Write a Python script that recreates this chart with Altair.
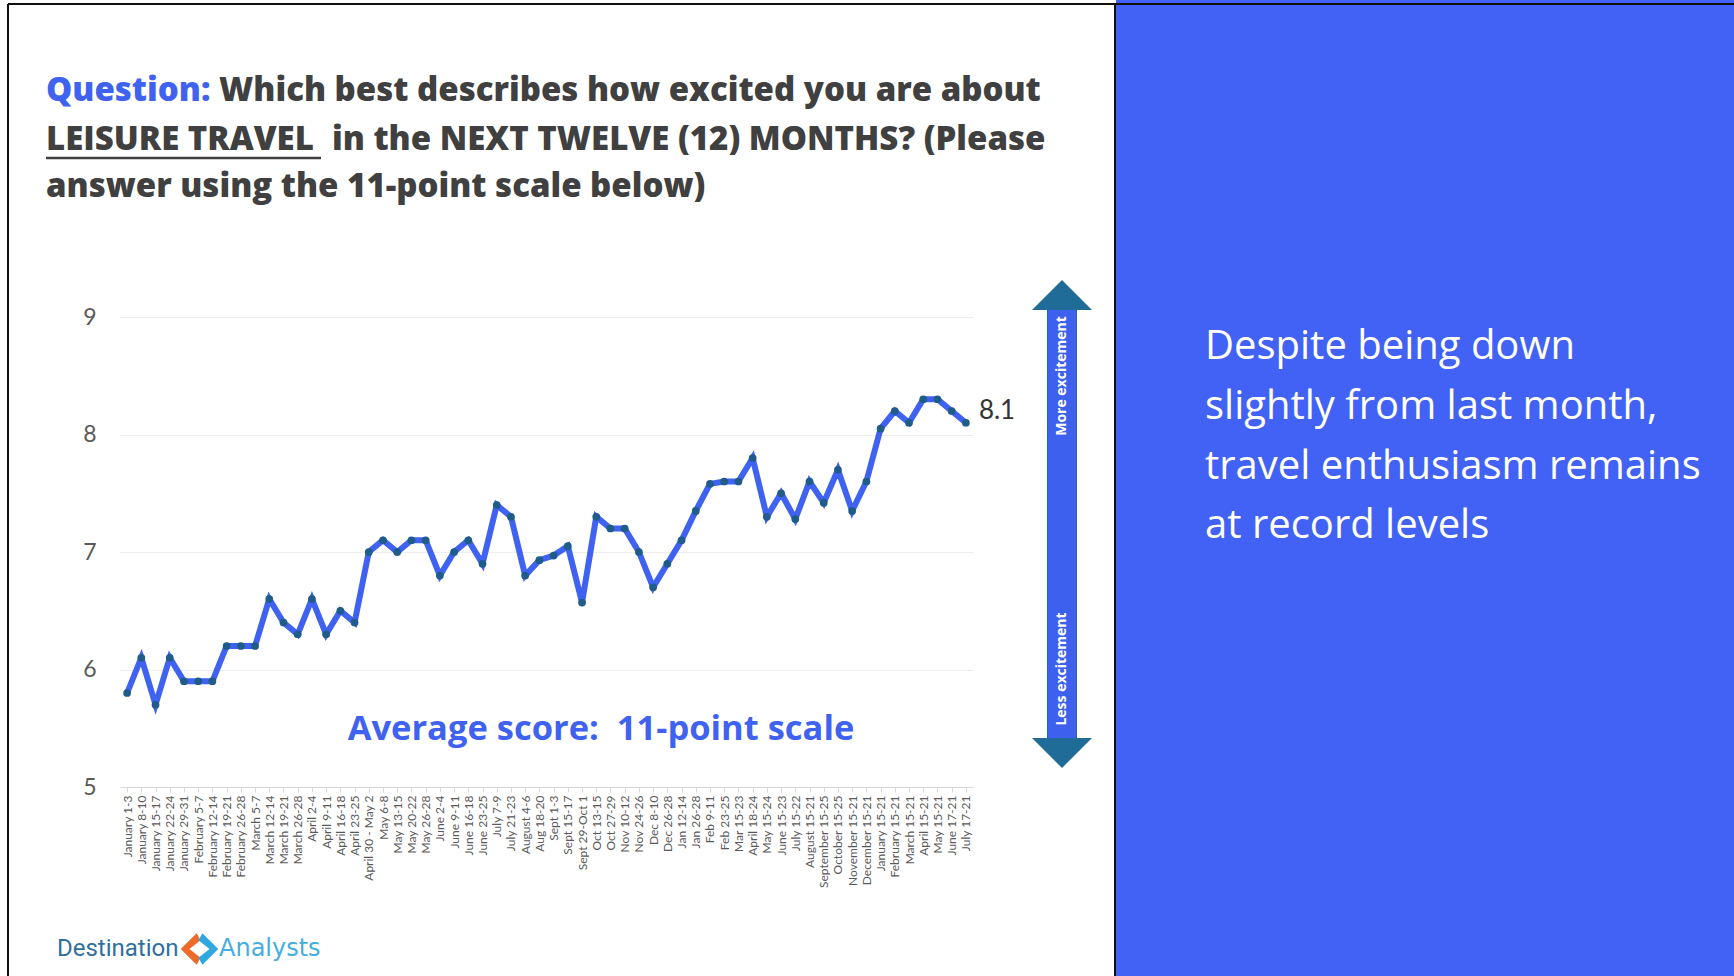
import altair as alt
import pandas as pd

categories = [
    "January 1-3", "January 8-10", "January 15-17", "January 22-24", "January 29-31",
    "February 5-7", "February 12-14", "February 19-21", "February 26-28", "March 5-7",
    "March 12-14", "March 19-21", "March 26-28", "April 2-4", "April 9-11",
    "April 16-18", "April 23-25", "April 30 - May 2", "May 6-8", "May 13-15",
    "May 20-22", "May 26-28", "June 2-4", "June 9-11", "June 16-18",
    "June 23-25", "July 7-9", "July 21-23", "August 4-6", "Aug 18-20",
    "Sept 1-3", "Sept 15-17", "Sept 29-Oct 1", "Oct 13-15", "Oct 27-29",
    "Nov 10-12", "Nov 24-26", "Dec 8-10", "Dec 26-28", "Jan 12-14",
    "Jan 26-28", "Feb 9-11", "Feb 23-25", "Mar 15-23", "April 18-24",
    "May 15-24", "June 15-23", "July 15-22", "August 15-21", "September 15-25",
    "October 15-25", "November 15-21", "December 15-21", "January 15-21", "February 15-21",
    "March 15-21", "April 15-21", "May 15-21", "June 17-21", "July 17-21",
]
scores = [
    5.8, 6.1, 5.7, 6.1, 5.9, 5.9, 5.9, 6.2, 6.2, 6.2,
    6.6, 6.4, 6.3, 6.6, 6.3, 6.5, 6.4, 7.0, 7.1, 7.0,
    7.1, 7.1, 6.8, 7.0, 7.1, 6.9, 7.4, 7.3, 6.8, 6.93,
    6.97, 7.05, 6.57, 7.3, 7.2, 7.2, 7.0, 6.7, 6.9, 7.1,
    7.35, 7.58, 7.6, 7.6, 7.8, 7.3, 7.5, 7.28, 7.6, 7.42,
    7.7, 7.35, 7.6, 8.05, 8.2, 8.1, 8.3, 8.3, 8.2, 8.1,
]
y_ticks = [5, 6, 7, 8, 9]

title_lines = [
    ("Question:", "Which best describes how excited you are about"),
    ("LEISURE TRAVEL", "in the NEXT TWELVE (12) MONTHS? (Please"),
    ("answer using the 11-point scale below)", ""),
]
side_lines = [
    "Despite being down",
    "slightly from last month,",
    "travel enthusiasm remains",
    "at record levels",
]
caption = "Average score:\u00a0\u00a011-point scale"

df = pd.DataFrame({"period": categories, "score": scores})
last = df.tail(1)
one = pd.DataFrame({"k": [0]})

PAD_L, PAD_T, W, H = 120, 317, 853, 470
TOTAL_W, TOTAL_H = 1734, 976

BLUE = "#4162F4"
LINE_BLUE = "#3F63F0"
GRAY = "#404040"
TEAL = "#206C98"
TFONT = "Open Sans"

x_enc = alt.X(
    "period:N", sort=categories, title=None,
    scale=alt.Scale(type="point", padding=0.5),
    axis=alt.Axis(labelAngle=270, labelFontSize=12, labelFont="Lato", labelColor="#595959",
                  domainColor="#D9D9D9", tickColor="#D9D9D9", tickSize=5, labelPadding=3,
                  labelLimit=200, grid=False),
)
y_enc = alt.Y(
    "score:Q", title=None,
    scale=alt.Scale(domain=[5, 9], nice=False, zero=False),
    axis=alt.Axis(values=y_ticks, labelFontSize=23, labelFont="Lato", labelColor="#595959",
                  domain=False, ticks=False, labelPadding=24, gridColor="#EDEDED", gridWidth=1.2),
)

layers = []

# right blue panel
layers.append(alt.Chart(one).mark_rect(color=BLUE).encode(
    x=alt.value(1116 - PAD_L), x2=alt.value(TOTAL_W - PAD_L),
    y=alt.value(-PAD_T), y2=alt.value(TOTAL_H - PAD_T)))
# frame lines
layers.append(alt.Chart(one).mark_rule(color="#111111", strokeWidth=2).encode(
    x=alt.value(8 - PAD_L), x2=alt.value(TOTAL_W - PAD_L), y=alt.value(4 - PAD_T)))
layers.append(alt.Chart(one).mark_rule(color="#111111", strokeWidth=2).encode(
    x=alt.value(8 - PAD_L), y=alt.value(4 - PAD_T), y2=alt.value(TOTAL_H - PAD_T)))
layers.append(alt.Chart(one).mark_rule(color="#111111", strokeWidth=2).encode(
    x=alt.value(1115 - PAD_L), y=alt.value(4 - PAD_T), y2=alt.value(TOTAL_H - PAD_T)))

# data line and points
layers.append(alt.Chart(df).mark_line(color=LINE_BLUE, strokeWidth=6).encode(x=x_enc, y=y_enc))
layers.append(alt.Chart(df).mark_circle(color="#1F5C8A", size=60, opacity=1).encode(x=x_enc, y=y_enc))
layers.append(alt.Chart(last).mark_text(align="left", baseline="middle", dx=13, dy=-12,
                                        fontSize=26, font="Lato", color="#333333").encode(
    x=x_enc, y=y_enc, text=alt.Text("score:Q", format=".1f")))

# chart caption
layers.append(alt.Chart(one).mark_text(align="center", baseline="middle", fontSize=34.5, font=TFONT,
                                       fontWeight="bold", color=LINE_BLUE).encode(
    x=alt.value(601 - PAD_L), y=alt.value(730 - PAD_T), text=alt.value(caption)))

# title lines
title_y = [91, 140, 187]
second_x = [219, 332, 0]
for (first, rest), ty, sx in zip(title_lines, title_y, second_x):
    col = LINE_BLUE if first == "Question:" else GRAY
    layers.append(alt.Chart(one).mark_text(align="left", baseline="middle", fontSize=33, font=TFONT,
                                           fontWeight=800, color=col).encode(
        x=alt.value(46 - PAD_L), y=alt.value(ty - PAD_T), text=alt.value(first)))
    if rest:
        layers.append(alt.Chart(one).mark_text(align="left", baseline="middle", fontSize=33, font=TFONT,
                                               fontWeight=800, color=GRAY).encode(
            x=alt.value(sx - PAD_L), y=alt.value(ty - PAD_T), text=alt.value(rest)))
# underline for LEISURE TRAVEL
layers.append(alt.Chart(one).mark_rule(color=GRAY, strokeWidth=2.5).encode(
    x=alt.value(46 - PAD_L), x2=alt.value(321 - PAD_L), y=alt.value(158 - PAD_T)))

# double arrow
AX = 1062 - PAD_L
layers.append(alt.Chart(one).mark_rect(color="#3D60EE", stroke=TEAL, strokeWidth=1).encode(
    x=alt.value(AX - 14.5), x2=alt.value(AX + 14.5), y=alt.value(306 - PAD_T), y2=alt.value(742 - PAD_T)))
layers.append(alt.Chart(one).mark_point(shape="M-1,0L1,0L0,-1Z", filled=True, size=3600,
                                        color=TEAL, opacity=1).encode(
    x=alt.value(AX), y=alt.value(310 - PAD_T)))
layers.append(alt.Chart(one).mark_point(shape="M-1,0L1,0L0,1Z", filled=True, size=3600,
                                        color=TEAL, opacity=1).encode(
    x=alt.value(AX), y=alt.value(738 - PAD_T)))
layers.append(alt.Chart(one).mark_text(angle=270, align="center", baseline="middle", fontSize=14,
                                       font="Open Sans", fontWeight="bold", color="white").encode(
    x=alt.value(AX), y=alt.value(376 - PAD_T), text=alt.value("More excitement")))
layers.append(alt.Chart(one).mark_text(angle=270, align="center", baseline="middle", fontSize=14,
                                       font="Open Sans", fontWeight="bold", color="white").encode(
    x=alt.value(AX), y=alt.value(669 - PAD_T), text=alt.value("Less excitement")))

# right side text
for line, ly in zip(side_lines, [347, 407, 467, 526]):
    layers.append(alt.Chart(one).mark_text(align="left", baseline="middle", fontSize=40, font=TFONT,
                                           color="white").encode(
        x=alt.value(1205 - PAD_L), y=alt.value(ly - PAD_T), text=alt.value(line)))

# logo
layers.append(alt.Chart(one).mark_text(align="left", baseline="middle", fontSize=24, font="Roboto",
                                       color="#2F6F9F").encode(
    x=alt.value(57 - PAD_L), y=alt.value(949 - PAD_T), text=alt.value("Destination")))
layers.append(alt.Chart(one).mark_point(shape="M0.1,-1L-0.9,0L0.1,1L0.35,0.55L-0.35,0L0.35,-0.55Z",
                                        filled=True, size=1000, color="#EE6A2B", opacity=1).encode(
    x=alt.value(195 - PAD_L), y=alt.value(949 - PAD_T)))
layers.append(alt.Chart(one).mark_point(shape="M-0.1,-1L0.9,0L-0.1,1L-0.35,0.55L0.35,0L-0.35,-0.55Z",
                                        filled=True, size=1000, color="#2FA7E0", opacity=1).encode(
    x=alt.value(204 - PAD_L), y=alt.value(949 - PAD_T)))
layers.append(alt.Chart(one).mark_text(align="left", baseline="middle", fontSize=24, font="DejaVu Sans",
                                       color="#45AEE0").encode(
    x=alt.value(219 - PAD_L), y=alt.value(949 - PAD_T), text=alt.value("Analysts")))

chart = alt.layer(*layers).properties(
    width=W, height=H,
    autosize=alt.AutoSizeParams(type="none"),
    padding={"left": PAD_L, "top": PAD_T, "right": TOTAL_W - PAD_L - W, "bottom": TOTAL_H - PAD_T - H},
    background="white",
).configure_view(stroke=None)

chart.save("out.html", embed_options={"renderer": "svg", "actions": False})
